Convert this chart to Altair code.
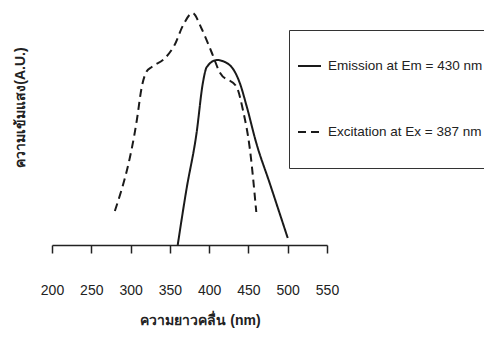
import altair as alt
import pandas as pd

# Excitation spectrum (dashed)
ex_nm = [280, 308, 314, 320, 327, 344, 356, 367, 379, 390, 403, 414, 435, 443, 452, 460]
ex_int = [34, 125, 157, 173, 178, 187, 200, 220, 232, 217, 193, 172, 158, 135, 95, 33]

# Emission spectrum (solid)
em_nm = [360, 371, 384, 392, 397, 410, 426, 439, 448, 460, 477, 500]
em_int = [0, 55, 112, 162, 178, 185, 180, 162, 138, 102, 62, 7]

em_name = "Emission at Em = 430 nm"
ex_name = "Excitation at Ex = 387 nm"

x_ticks = [200, 250, 300, 350, 400, 450, 500, 550]

df = pd.concat([
    pd.DataFrame({"nm": em_nm, "intensity": em_int, "series": em_name, "order": range(len(em_nm))}),
    pd.DataFrame({"nm": ex_nm, "intensity": ex_int, "series": ex_name, "order": range(len(ex_nm))}),
])

FONT = "Liberation Sans"

chart = alt.Chart(df).mark_line(
    interpolate="monotone", strokeWidth=2, color="#1a1a1a"
).encode(
    x=alt.X("nm:Q",
            scale=alt.Scale(domain=[200, 550], nice=False, zero=False),
            axis=alt.Axis(values=x_ticks, tickSize=8, labelPadding=30, grid=False,
                          labelFlush=False, labelOverlap=False, labelBound=False,
                          domainWidth=1.5, tickWidth=1.5, domainColor="#222", tickColor="#222",
                          labelFontSize=14, labelFont=FONT, labelColor="#222",
                          title="ความยาวคลื่น (nm)", titleFontSize=14, titleFont=FONT,
                          titleFontWeight="bold", titleColor="#222",
                          titleX=148, titleY=75, titleBaseline="middle")),
    y=alt.Y("intensity:Q",
            scale=alt.Scale(domain=[0, 232], nice=False),
            axis=alt.Axis(domain=False, ticks=False, labels=False, grid=False,
                          title="ความเข้มแสง(A.U.)", titleFontSize=14, titleFont=FONT,
                          titleFontWeight="bold", titleColor="#222",
                          titleAngle=270, titleX=-32, titleY=94,
                          titleAlign="center", titleBaseline="middle")),
    strokeDash=alt.StrokeDash("series:N",
                              scale=alt.Scale(domain=[em_name, ex_name], range=[[1, 0], [8, 5]]),
                              legend=alt.Legend(orient="none", legendX=237, legendY=17, title=None,
                                                padding=8, strokeColor="#333", fillColor="white",
                                                symbolType="stroke", symbolSize=529,
                                                symbolStrokeWidth=2, symbolStrokeColor="#1a1a1a",
                                                labelFontSize=13.5, labelFont=FONT, labelColor="#222",
                                                labelOffset=6, clipHeight=56, rowPadding=10,
                                                labelLimit=300)),
    detail="series:N",
    order="order:Q",
).properties(
    width=275, height=232,
    background="white",
    autosize=alt.AutoSizeParams(type="none"),
    padding={"left": 44, "top": 5, "right": 157, "bottom": 83},
).configure_view(strokeWidth=0)

chart.save("out.html", embed_options={"renderer": "svg", "actions": False})
